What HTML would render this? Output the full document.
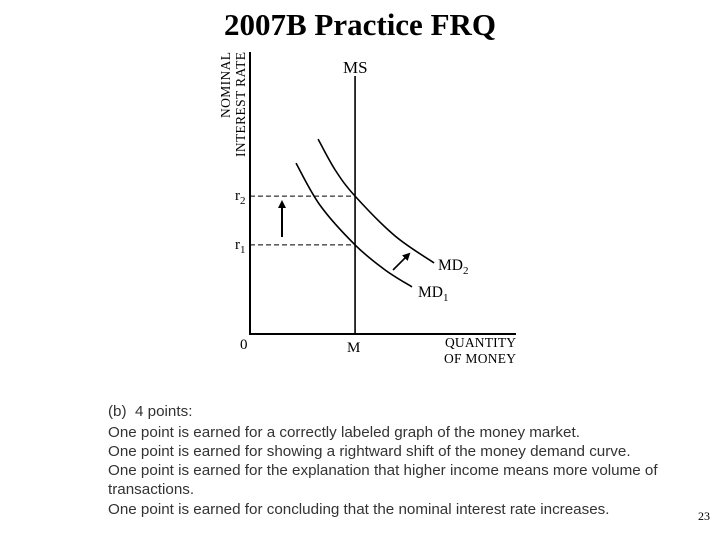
<!DOCTYPE html>
<html><head><meta charset="utf-8">
<style>
body{margin:0;background:#fff;width:720px;height:540px;overflow:hidden;position:relative;font-family:"Liberation Sans",sans-serif}
.t{position:absolute;white-space:nowrap}
.ln{position:absolute;left:108px;white-space:nowrap}
</style></head><body>
<div class="t" style="left:0;width:720px;text-align:center;top:7px;font:bold 31px 'Liberation Serif',serif">2007B Practice FRQ</div>
<svg id="chart" width="720" height="540" style="position:absolute;left:0;top:0" font-family="Liberation Serif, serif"></svg>
<div style="position:absolute;left:0;top:0;width:720px;height:540px;font-size:15.2px;color:#333">
<div class="ln" style="top:403px">(b)&nbsp; 4 points:</div>
<div class="ln" style="top:424px">One point is earned for a correctly labeled graph of the money market.</div>
<div class="ln" style="top:443px">One point is earned for showing a rightward shift of the money demand curve.</div>
<div class="ln" style="top:462px">One point is earned for the explanation that higher income means more volume of</div>
<div class="ln" style="top:481px;height:15px;overflow:hidden">transactions.</div>
<div class="ln" style="top:501px">One point is earned for concluding that the nominal interest rate increases.</div>
</div>
<div class="t" style="left:698px;top:509px;font:12px 'Liberation Serif',serif">23</div>
<script>
const msQuantity = 3.95;
const rateLevels = [3.16, 4.89];
const rateLabels = ["r1", "r2"];
const md1Q = [1.73, 2.63, 3.95, 5.08, 6.09];
const md1R = [6.06, 4.57, 3.16, 2.27, 1.67];
const md2Q = [2.56, 3.2, 3.95, 5.45, 6.92];
const md2R = [6.91, 5.82, 4.89, 3.48, 2.52];
const X = v => 250 + v * 26.6;
const Y = v => 334 - v * 28.2;
const svg = document.getElementById('chart');
const NS = 'http://www.w3.org/2000/svg';
function mk(tag, attrs, name, txt) {
  const e = document.createElementNS(NS, tag);
  for (const k in attrs) e.setAttribute(k, attrs[k]);
  
  
  if (txt !== undefined) e.textContent = txt;
  svg.appendChild(e); return e;
}
const defs = document.createElementNS(NS, 'defs');
defs.innerHTML = '<marker id="ah" markerWidth="8" markerHeight="8" refX="6" refY="4" orient="auto" markerUnits="userSpaceOnUse"><path d="M0,0 L8,4 L0,8 z" fill="#000"/></marker>';
svg.appendChild(defs);
mk('line', {x1:250,y1:52,x2:250,y2:334.5,stroke:'#000','stroke-width':2}, 'y-axis');
mk('line', {x1:249,y1:334,x2:516,y2:334,stroke:'#000','stroke-width':2}, 'x-axis');
mk('line', {x1:X(msQuantity),y1:76,x2:X(msQuantity),y2:334,stroke:'#000','stroke-width':1.6}, 'money-supply-line');
rateLevels.forEach((r, i) => {
  mk('line', {x1:250,y1:Y(r),x2:X(msQuantity),y2:Y(r),stroke:'#000','stroke-width':1,'stroke-dasharray':'5,3'}, 'rate-guide-' + rateLabels[i]);
  const t = mk('text', {x:235,y:Y(r)+4,'font-size':15}, 'rate-label-' + rateLabels[i], 'r');
  const s = document.createElementNS(NS, 'tspan'); s.setAttribute('font-size', 11); s.setAttribute('dy', 4); s.textContent = rateLabels[i].slice(1); t.appendChild(s);
});
function curve(qs, rs, name) {
  const p = qs.map((q, i) => [X(q), Y(rs[i])]);
  let d = 'M' + p[0].join(',');
  for (let i = 0; i < p.length - 1; i++) {
    const p0 = p[Math.max(0, i-1)], p1 = p[i], p2 = p[i+1], p3 = p[Math.min(p.length-1, i+2)];
    const c1 = [p1[0] + (p2[0]-p0[0])/6, p1[1] + (p2[1]-p0[1])/6];
    const c2 = [p2[0] - (p3[0]-p1[0])/6, p2[1] - (p3[1]-p1[1])/6];
    d += ' C' + c1.join(',') + ' ' + c2.join(',') + ' ' + p2.join(',');
  }
  mk('path', {d:d,fill:'none',stroke:'#000','stroke-width':1.6}, name);
}
curve(md1Q, md1R, 'money-demand-curve-1');
curve(md2Q, md2R, 'money-demand-curve-2');
mk('line', {x1:282,y1:237,x2:282,y2:202,stroke:'#000','stroke-width':2,'marker-end':'url(#ah)'}, 'rate-increase-arrow');
mk('line', {x1:393,y1:270,x2:409,y2:254,stroke:'#000','stroke-width':1.6,'marker-end':'url(#ah)'}, 'demand-shift-arrow');
mk('text', {x:343,y:73,'font-size':17}, 'ms-label', 'MS');
mk('text', {x:438,y:270,'font-size':15.5}, 'md2-label', 'MD').innerHTML += '<tspan font-size="11" dy="4">2</tspan>';
mk('text', {x:418,y:297,'font-size':15.5}, 'md1-label', 'MD').innerHTML += '<tspan font-size="11" dy="4">1</tspan>';
mk('text', {x:240,y:349,'font-size':15}, 'origin-label', '0');
mk('text', {x:347,y:352,'font-size':15}, 'm-label', 'M');
mk('text', {x:445,y:347,'font-size':13.5,textLength:71}, 'x-axis-title-1', 'QUANTITY');
mk('text', {x:444,y:363,'font-size':13.5,textLength:72}, 'x-axis-title-2', 'OF MONEY');
mk('text', {x:0,y:0,'font-size':13.5,textLength:66,transform:'translate(230,118) rotate(-90)'}, 'y-axis-title-1', 'NOMINAL');
mk('text', {x:0,y:0,'font-size':13.5,textLength:105,transform:'translate(245,157) rotate(-90)'}, 'y-axis-title-2', 'INTEREST RATE');
</script>
</body></html>
